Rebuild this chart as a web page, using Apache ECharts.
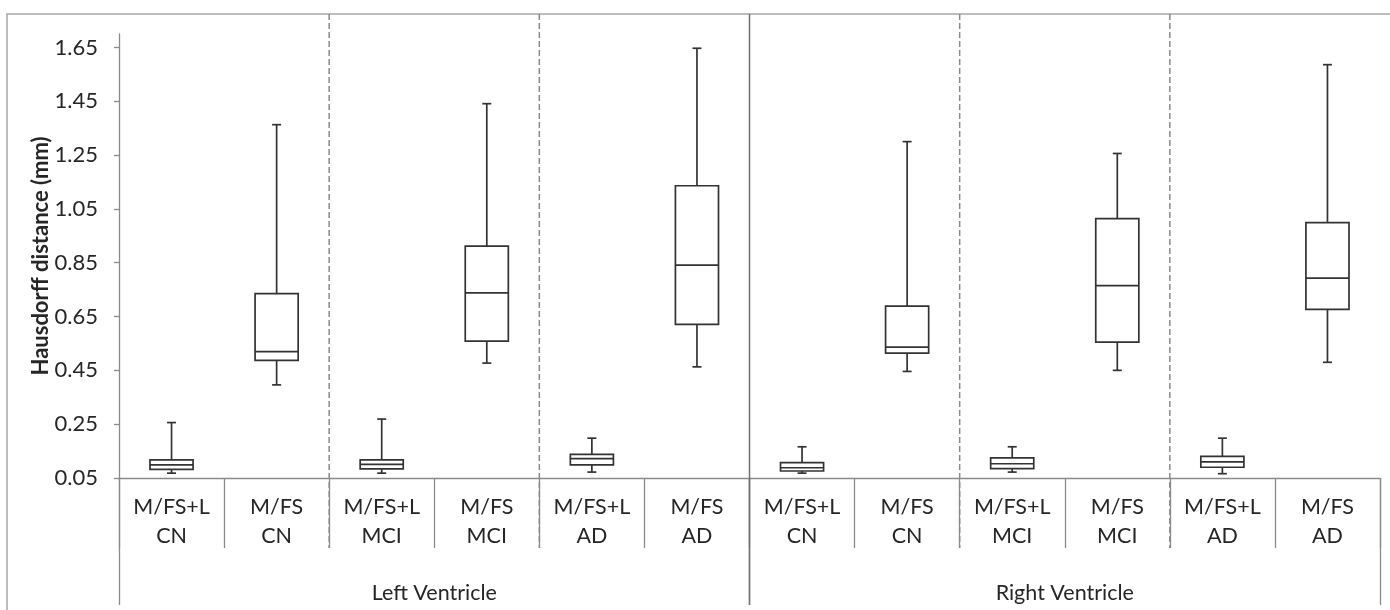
<!DOCTYPE html>
<html>
<head>
<meta charset="utf-8">
<script src="https://cdn.jsdelivr.net/npm/echarts@6/dist/echarts.min.js"></script>
<style>
html,body{margin:0;padding:0;background:#fff;}
#chart{width:1390px;height:610px;}
</style>
</head>
<body>
<div id="chart"></div>
<script>
// ---- data ----
const methods = ['M/FS+L','M/FS','M/FS+L','M/FS','M/FS+L','M/FS','M/FS+L','M/FS','M/FS+L','M/FS','M/FS+L','M/FS'];
const groups  = ['CN','CN','MCI','MCI','AD','AD','CN','CN','MCI','MCI','AD','AD'];
const regions = ['Left Ventricle','Right Ventricle'];
const minVals    = [0.068, 0.396, 0.068, 0.477, 0.072, 0.463, 0.068, 0.446, 0.072, 0.450, 0.066, 0.480];
const q1Vals     = [0.082, 0.487, 0.084, 0.559, 0.099, 0.621, 0.076, 0.514, 0.085, 0.555, 0.090, 0.677];
const medianVals = [0.099, 0.520, 0.101, 0.738, 0.122, 0.841, 0.088, 0.536, 0.103, 0.765, 0.110, 0.793];
const q3Vals     = [0.117, 0.735, 0.117, 0.912, 0.138, 1.136, 0.107, 0.689, 0.125, 1.014, 0.130, 0.999];
const maxVals    = [0.256, 1.363, 0.269, 1.441, 0.198, 1.647, 0.166, 1.300, 0.166, 1.256, 0.198, 1.586];
const yAxisName = 'Hausdorff distance (mm)';
const yMin = 0.05, yMax = 1.7, yStep = 0.2;
const groupBoundaries = [2, 4, 8, 10];   // dashed dividers (between category k-1 and k)
const regionBoundary = 6;                // solid divider

// ---- build ----
const FONT = 'Lato';
const TXT = '#262626';
const AXIS = '#8a8a8a';
const BOX = '#333333';
const FS = 21.5;
const catKeys = methods.map((m, i) => m + '|' + groups[i] + '|' + i);
const boxData = methods.map((m, i) => [i, minVals[i], q1Vals[i], medianVals[i], q3Vals[i], maxVals[i]]);

const chart = echarts.init(document.getElementById('chart'), null, {renderer: 'canvas'});

function renderBox(params, api) {
  const idx = api.value(0);
  const p = [1, 2, 3, 4, 5].map(k => api.coord([idx, api.value(k)]));
  const x = p[0][0];
  const band = api.size([1, 0])[0];
  const hw = band * 0.205;
  const cap = 4.5;
  const ls = {stroke: BOX, lineWidth: 1.7};
  return {
    type: 'group',
    children: [
      {type: 'line', shape: {x1: x, y1: p[4][1], x2: x, y2: p[3][1]}, style: ls},
      {type: 'line', shape: {x1: x - cap, y1: p[4][1], x2: x + cap, y2: p[4][1]}, style: ls},
      {type: 'line', shape: {x1: x, y1: p[1][1], x2: x, y2: p[0][1]}, style: ls},
      {type: 'line', shape: {x1: x - cap, y1: p[0][1], x2: x + cap, y2: p[0][1]}, style: ls},
      {type: 'rect', shape: {x: x - hw, y: p[3][1], width: hw * 2, height: p[1][1] - p[3][1]},
        style: {fill: '#ffffff', stroke: BOX, lineWidth: 1.7}},
      {type: 'line', shape: {x1: x - hw, y1: p[2][1], x2: x + hw, y2: p[2][1]}, style: ls}
    ]
  };
}

const option = {
  backgroundColor: '#ffffff',
  animation: false,
  textStyle: {fontFamily: FONT},
  grid: {left: 119, right: 10, top: 34, bottom: 132, containLabel: false},
  xAxis: [
    {
      type: 'category',
      data: catKeys,
      position: 'bottom',
      axisLine: {show: true, lineStyle: {color: AXIS, width: 1.3}},
      axisTick: {show: true, interval: 0, length: 70, alignWithLabel: false, lineStyle: {color: AXIS, width: 1.3}},
      axisLabel: {
        interval: 0, margin: 15,
        formatter: (v, i) => '{a|' + methods[i] + '}\n{a|' + groups[i] + '}',
        rich: {a: {fontFamily: FONT, fontSize: FS, lineHeight: 29, color: TXT, align: 'center'}}
      },
      splitLine: {show: false}
    },
    {
      type: 'category',
      data: regions,
      position: 'bottom',
      axisLine: {show: false},
      axisTick: {show: true, interval: 0, length: 127, lineStyle: {color: AXIS, width: 1.3}},
      axisLabel: {interval: 0, margin: 104, fontFamily: FONT, fontSize: FS, color: TXT},
      splitLine: {show: false}
    }
  ],
  yAxis: {
    type: 'value',
    min: yMin, max: yMax, interval: yStep,
    name: yAxisName,
    nameLocation: 'middle',
    nameGap: 67,
    nameMoveOverlap: false,
    nameTextStyle: {fontFamily: FONT, fontSize: 22, fontWeight: 'bold', color: TXT},
    axisLine: {show: true, lineStyle: {color: AXIS, width: 1.3}},
    axisTick: {show: true, length: 5, lineStyle: {color: AXIS, width: 1.3}},
    axisLabel: {
      margin: 21, fontFamily: FONT, fontSize: 22, color: TXT, showMaxLabel: false,
      formatter: v => v.toFixed(2)
    },
    splitLine: {show: false}
  },
  series: [{
    type: 'custom',
    renderItem: renderBox,
    encode: {x: 0, y: [1, 2, 3, 4, 5]},
    data: boxData,
    z: 5
  }]
};
chart.setOption(option);

// dividers placed through the library's own scales
const y0 = chart.convertToPixel({yAxisIndex: 0}, yMin);
const boundaryX = k => (chart.convertToPixel({xAxisIndex: 0}, k - 1) + chart.convertToPixel({xAxisIndex: 0}, k)) / 2;
const TOP = 14;
const graphics = [
  {type: 'rect', shape: {x: 7, y: TOP, width: 1500, height: 800}, style: {fill: null, stroke: '#a8a8a8', lineWidth: 1.5}, silent: true, z: 0}
];
groupBoundaries.forEach(k => {
  const x = boundaryX(k);
  graphics.push({type: 'line', shape: {x1: x, y1: TOP, x2: x, y2: y0 + 70},
    style: {stroke: AXIS, lineWidth: 1.5, lineDash: [6, 3]}, silent: true, z: 1});
});
{
  const x = boundaryX(regionBoundary);
  graphics.push({type: 'line', shape: {x1: x, y1: TOP, x2: x, y2: y0 + 127},
    style: {stroke: '#6f6f6f', lineWidth: 1.5}, silent: true, z: 1});
}
chart.setOption({graphic: graphics});
</script>
</body>
</html>
